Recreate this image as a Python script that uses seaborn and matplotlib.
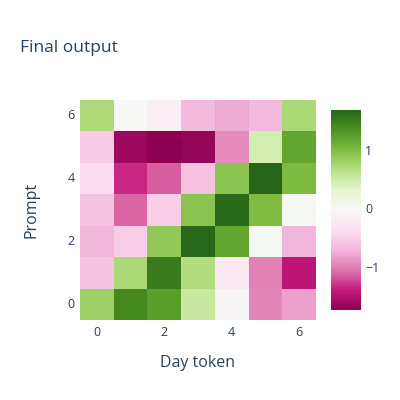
import numpy as np
import pandas as pd
import seaborn as sns
import matplotlib.pyplot as plt
from matplotlib.colors import LinearSegmentedColormap

# values, row 0 = bottom (prompt 0)
day_tokens = [0, 1, 2, 3, 4, 5, 6]
prompts = [0, 1, 2, 3, 4, 5, 6]
row0 = [0.81, 1.41, 1.25, 0.53, -0.08, -0.97, -0.82]
row1 = [-0.60, 0.73, 1.51, 0.68, -0.27, -1.00, -1.45]
row2 = [-0.70, -0.52, 0.89, 1.66, 1.18, 0.02, -0.70]
row3 = [-0.60, -1.12, -0.52, 0.92, 1.63, 0.99, 0.00]
row4 = [-0.39, -1.35, -1.14, -0.62, 0.92, 1.68, 1.00]
row5 = [-0.54, -1.64, -1.74, -1.69, -0.94, 0.45, 1.18]
row6 = [0.71, -0.03, -0.17, -0.68, -0.77, -0.68, 0.72]
zmin, zmax = -1.74, 1.68

# plotly's PiYG scale
piyg = ['#8e0152', '#c51b7d', '#de77ae', '#f1b6da', '#fde0ef', '#f7f7f7',
        '#e6f5d0', '#b8e186', '#7fbc41', '#4d9221', '#276419']
cmap = LinearSegmentedColormap.from_list('piyg', piyg)

df = pd.DataFrame([row0, row1, row2, row3, row4, row5, row6],
                  index=prompts, columns=day_tokens)

sns.set_style('white')
plt.rcParams['font.family'] = ['Open Sans', 'DejaVu Sans']
txt = '#2a3f5f'

fig = plt.figure(figsize=(4, 4), dpi=100)
ax = fig.add_axes([0.2, 0.2, 0.59, 0.55])
cax = fig.add_axes([0.8275, 0.225, 0.075, 0.5])

sns.heatmap(df, ax=ax, cbar_ax=cax, cmap=cmap, vmin=zmin, vmax=zmax,
            square=False, linewidths=0)
ax.invert_yaxis()

ax.set_xticks([0.5, 2.5, 4.5, 6.5])
ax.set_xticklabels(['0', '2', '4', '6'], rotation=0)
ax.set_yticks([0.5, 2.5, 4.5, 6.5])
ax.set_yticklabels(['0', '2', '4', '6'], rotation=0)
ax.tick_params(length=0, labelsize=9, colors=txt, pad=4)
ax.set_xlabel('Day token', fontsize=11.5, color=txt, labelpad=12)
ax.set_ylabel('Prompt', fontsize=11.5, color=txt, labelpad=20)
for s in ax.spines.values():
    s.set_visible(False)

cax.set_yticks([-1, 0, 1])
cax.set_yticklabels(['\u22121', '0', '1'])
cax.tick_params(length=0, labelsize=9, colors=txt, pad=3)
for s in cax.spines.values():
    s.set_visible(False)

fig.text(0.05, 0.87, 'Final output', fontsize=12.5, color=txt, va='baseline')

fig.savefig('out.png', dpi=100)
